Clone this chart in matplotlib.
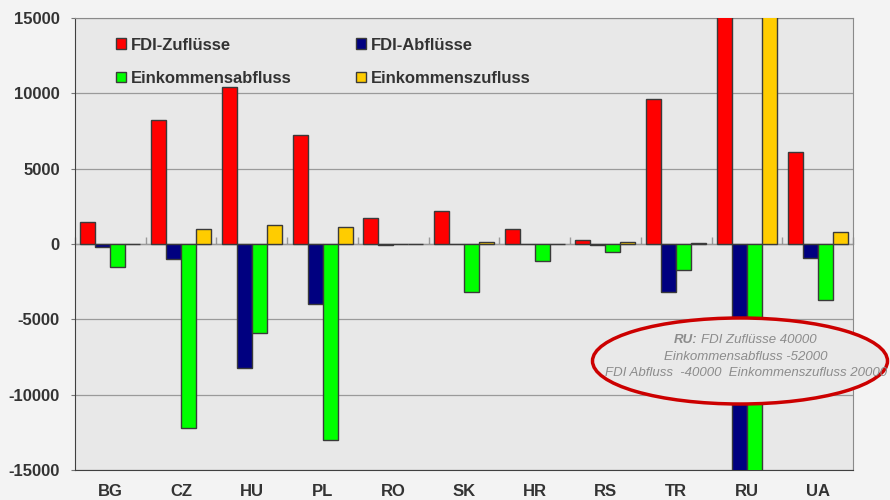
import numpy as np
import matplotlib.pyplot as plt
from matplotlib.patches import Ellipse

plt.rcParams['font.family'] = ['Liberation Sans', 'DejaVu Sans']
plt.rcParams['axes.unicode_minus'] = False

countries = ['BG', 'CZ', 'HU', 'PL', 'RO', 'SK', 'HR', 'RS', 'TR', 'RU', 'UA']
fdi_zufluesse = [1450, 8250, 10450, 7250, 1750, 2200, 1000, 250, 9650, 40000, 6100]
fdi_abfluesse = [-200, -1000, -8200, -3950, -50, 30, 30, -80, -3200, -40000, -950]
eink_abfluss = [-1500, -12200, -5900, -13000, -30, -3200, -1100, -500, -1700, -52000, -3700]
eink_zufluss = [30, 1000, 1280, 1150, 10, 150, 20, 130, 50, 20000, 800]

series = [
    ('FDI-Zuflüsse', fdi_zufluesse, '#ff0000'),
    ('FDI-Abflüsse', fdi_abfluesse, '#000080'),
    ('Einkommensabfluss', eink_abfluss, '#00ff00'),
    ('Einkommenszufluss', eink_zufluss, '#ffcc00'),
]

txt = '#333333'
fig = plt.figure(figsize=(8.9, 5), dpi=100, facecolor='#f3f3f3')
ax = fig.add_axes([75 / 890, 30 / 500, 778 / 890, 452 / 500])
ax.set_facecolor('#e8e8e8')

x = np.arange(len(countries))
w = 0.212
bars = {}
for i, (name, vals, col) in enumerate(series):
    bars[name] = ax.bar(x + (i - 1.5) * w, vals, w, color=col, edgecolor='#3a3a3a',
                        linewidth=1, label=name, zorder=3)

ax.set_xlim(-0.5, len(countries) - 0.5)
ax.set_ylim(-15000, 15000)
ax.set_yticks(np.arange(-15000, 15001, 5000))
ax.grid(axis='y', color='#9a9a9a', linewidth=0.9, zorder=0)
ax.set_axisbelow(True)

ax.set_xticks(x)
ax.set_xticklabels(countries)
ax.tick_params(axis='x', length=0, pad=10)
ax.tick_params(axis='y', length=3, color='#777777', pad=8)
for lab in ax.get_xticklabels() + ax.get_yticklabels():
    lab.set_fontsize(12)
    lab.set_fontweight('bold')
    lab.set_color(txt)

ax.spines['left'].set_color('#404040')
ax.spines['bottom'].set_color('#404040')
ax.spines['top'].set_color('#8a8a8a')
ax.spines['right'].set_color('#8a8a8a')

# zero axis with category separator ticks
zax = ax.secondary_xaxis(0.5)
zax.set_xticks(np.arange(-0.5, len(countries) + 0.5, 1.0))
zax.set_xticklabels([])
zax.tick_params(length=5, color='#9a9a9a', width=1)
zax.spines['bottom'].set_color('#333333')
zax.spines['bottom'].set_linewidth(1.2)

handles = [bars['FDI-Zuflüsse'], bars['Einkommensabfluss'],
           bars['FDI-Abflüsse'], bars['Einkommenszufluss']]
leg = ax.legend(handles=handles, ncol=2, loc='upper left',
                bbox_to_anchor=(0.033, 0.99), frameon=False,
                prop={'size': 12, 'weight': 'bold'},
                handlelength=0.6, handleheight=0.6, handletextpad=0.3,
                columnspacing=3.85, labelspacing=1.1)
for t in leg.get_texts():
    t.set_color(txt)

# RU note
ell = Ellipse((740 / 890, 1 - 361 / 500), 295 / 890, 86 / 500,
              transform=fig.transFigure, facecolor='#e9e9e9', edgecolor='#cc0000',
              linewidth=2.5, zorder=10)
fig.patches.append(ell)
note = '#8c8c8c'
fig.text(697 / 890, 1 - 340 / 500, 'RU:', ha='right', va='center', fontsize=9.5,
         style='italic', weight='bold', color=note, zorder=11)
fig.text(701 / 890, 1 - 340 / 500, 'FDI Zuflüsse 40000', ha='left', va='center',
         fontsize=9.5, style='italic', color=note, zorder=11)
fig.text(746 / 890, 1 - 357 / 500, 'Einkommensabfluss -52000', ha='center',
         va='center', fontsize=9.5, style='italic', color=note, zorder=11)
fig.text(746 / 890, 1 - 373 / 500, 'FDI Abfluss  -40000  Einkommenszufluss 20000',
         ha='center', va='center', fontsize=9.5, style='italic', color=note, zorder=11)

fig.savefig('out.png', dpi=100, facecolor=fig.get_facecolor())
